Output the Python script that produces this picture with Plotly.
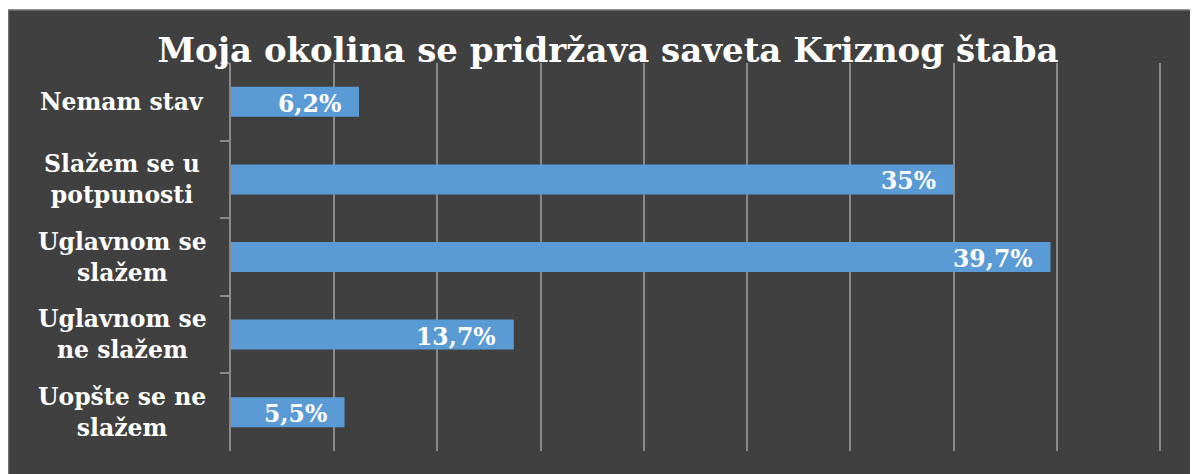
import plotly.graph_objects as go

title = "Moja okolina se pridržava saveta Kriznog štaba"
categories = ["Nemam stav", "Slažem se u<br>potpunosti", "Uglavnom se<br>slažem",
              "Uglavnom se<br>ne slažem", "Uopšte se ne<br>slažem"]
values = [6.2, 35.0, 39.7, 13.7, 5.5]
value_labels = ["6,2%", "35%", "39,7%", "13,7%", "5,5%"]

FONT = "DejaVu Serif"
W, H = 1198, 474
OFF = 8  # page body margin
XMAX = 45.1
L, T, B = 231 - OFF, 63 - OFF, 23 + OFF
pw = round(929 * XMAX / 45)
R = W - L - pw
ph = H - T - B

fig = go.Figure()
fig.add_trace(go.Bar(
    x=values, y=categories, orientation="h",
    marker=dict(color="#5B9BD5", line=dict(width=0)),
    hoverinfo="skip",
))

# value labels near bar ends
for c, v, t in zip(categories, values, value_labels):
    fig.add_annotation(x=v, y=c, xref="x", yref="y", text=t, showarrow=False,
                       xanchor="right", xshift=-16, yshift=-2,
                       font=dict(family=FONT, size=23.5, color="white", weight="bold"))

# centered category labels
for c in categories:
    fig.add_annotation(x=(122 - OFF - L) / pw, y=c, xref="paper", yref="y", text=c,
                       showarrow=False, xanchor="center", align="center",
                       font=dict(family=FONT, size=23.5, color="white", weight="bold"))

# dark panel with border
fig.add_shape(type="rect", xref="paper", yref="paper", layer="below",
              x0=(0.5 - L) / pw, x1=(W + 5 - L) / pw,
              y0=-(H + 5 - T - ph) / ph, y1=1 + (T - 2) / ph,
              fillcolor="#404040", line=dict(color="#707070", width=1.5))

fig.update_layout(
    width=W, height=H,
    margin=dict(l=L, r=R, t=T, b=B),
    paper_bgcolor="white", plot_bgcolor="rgba(0,0,0,0)",
    title=dict(text=title, x=(608 - OFF) / W, xanchor="center", y=1 - (50 - OFF) / H,
               yanchor="middle",
               font=dict(family=FONT, size=34, color="white", weight="bold")),
    bargap=0.613,
    showlegend=False,
    xaxis=dict(range=[0, XMAX], tick0=0, dtick=5, showgrid=True, gridcolor="#8a8a8a",
               gridwidth=1.5, showticklabels=False, zeroline=False, showline=False,
               fixedrange=True),
    yaxis=dict(categoryorder="array", categoryarray=categories, autorange="reversed",
               showticklabels=False, ticks="outside", tickson="boundaries", ticklen=9,
               tickcolor="#8a8a8a", tickwidth=1.5, showline=True, linecolor="#8a8a8a",
               linewidth=1.5, showgrid=False, zeroline=False),
)

fig.write_html("out.html")
